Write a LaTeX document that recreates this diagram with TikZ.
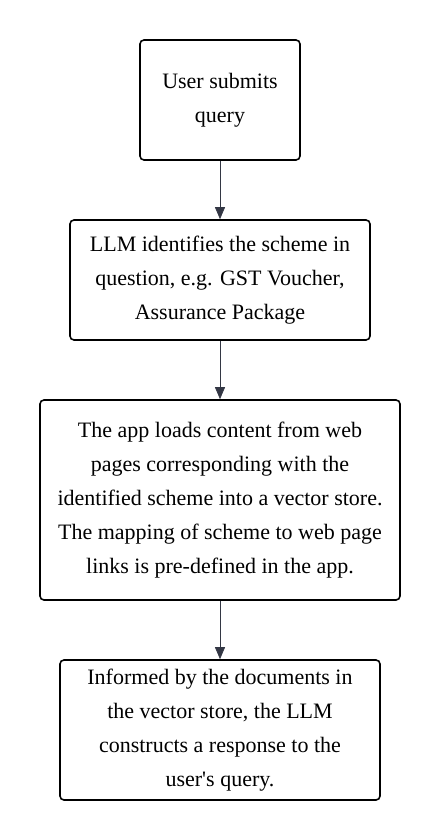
\documentclass[tikz,border=0pt]{standalone}
\usepackage{fontspec}
\setmainfont{Liberation Serif}
\usetikzlibrary{arrows.meta}
\begin{document}
\begin{tikzpicture}[x=1pt,y=-1pt,
  stepbox/.style={draw=black,line width=1.6pt,rounded corners=4pt,inner sep=0pt,
    align=center,font=\fontsize{22}{34}\selectfont},
  conn/.style={draw={rgb,255:red,51;green,55;blue,68},line width=0.8pt,
    -{Triangle[length=12pt,width=10pt]}}]
\useasboundingbox (0,0) rectangle (440,840);
\node[stepbox,minimum width=160pt,minimum height=120pt] (a) at (220,100) {User submits\\query};
\node[stepbox,minimum width=300pt,minimum height=120pt] (b) at (220,280) {LLM identifies the scheme in\\question, e.g. GST Voucher,\\Assurance Package};
\node[stepbox,minimum width=360pt,minimum height=200pt] (c) at (220,500) {The app loads content from web\\pages corresponding with the\\identified scheme into a vector store.\\The mapping of scheme to web page\\links is pre-defined in the app.};
\node[stepbox,minimum width=320pt,minimum height=140pt] (d) at (220,730) {Informed by the documents in\\the vector store, the LLM\\constructs a response to the\\user\textquotesingle s query.};
\draw[conn] (a) -- (b);
\draw[conn] (b) -- (c);
\draw[conn] (c) -- (d);
\end{tikzpicture}
\end{document}
